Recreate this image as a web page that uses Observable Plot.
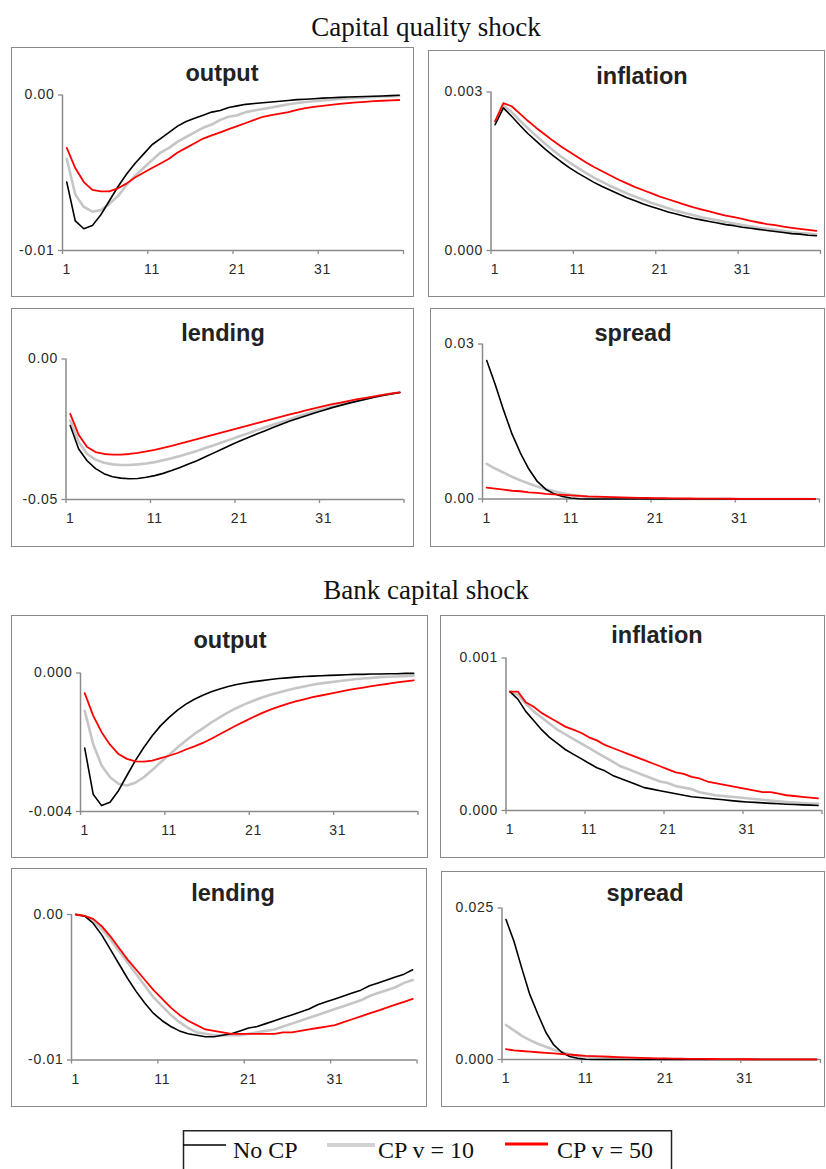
<!DOCTYPE html>
<html>
<head>
<meta charset="utf-8">
<script src="https://cdn.jsdelivr.net/npm/d3@7"></script>
<script src="https://cdn.jsdelivr.net/npm/@observablehq/plot@0.6"></script>
<style>
  html, body { margin: 0; padding: 0; background: #fff; }
  #page { position: relative; width: 826px; height: 1169px; overflow: hidden; background: #fff; }
  .section { position: absolute; font-family: "Liberation Serif", "Times New Roman", serif; font-size: 27px; color: #111; transform: translate(-50%, -50%); white-space: nowrap; }
  .ptitle { position: absolute; font-family: "Liberation Sans", Arial, sans-serif; font-weight: bold; font-size: 23.5px; color: #222; transform: translate(-50%, -50%); white-space: nowrap; }
  .frame { position: absolute; border: 1.5px solid #8a8a8a; box-sizing: border-box; pointer-events: none; }
</style>
</head>
<body>
<div id="page"></div>
<script>
// ---------------- DATA ----------------
const periods = [1,2,3,4,5,6,7,8,9,10,11,12,13,14,15,16,17,18,19,20,21,22,23,24,25,26,27,28,29,30,31,32,33,34,35,36,37,38,39,40];
const seriesNames = ["No CP", "CP v = 10", "CP v = 50"];
const sectionTitles = ["Capital quality shock", "Bank capital shock"];
const panelTitles = ["output", "inflation", "lending", "spread"];
const xTickLabels = [1, 11, 21, 31];

// Capital quality shock
const cqOutputNoCP = [-0.0056,-0.0081,-0.0086,-0.0084,-0.0077,-0.0068,-0.0059,-0.0051,-0.0044,-0.0038,-0.0032,-0.0028,-0.0024,-0.0020,-0.0017,-0.0015,-0.0013,-0.0011,-0.0010,-0.0008,-0.0007,-0.0006,-0.00055,-0.0005,-0.00045,-0.0004,-0.00035,-0.0003,-0.00027,-0.00024,-0.0002,-0.00018,-0.00015,-0.00013,-0.00011,-0.0001,-0.00008,-0.00006,-0.00004,-0.00002];
const cqOutputCP10 = [-0.0041,-0.0064,-0.0072,-0.0075,-0.0074,-0.0070,-0.0065,-0.0058,-0.0052,-0.0047,-0.0042,-0.0037,-0.0034,-0.0030,-0.0027,-0.0024,-0.0021,-0.0019,-0.0016,-0.0014,-0.0013,-0.0011,-0.0010,-0.0009,-0.0008,-0.0007,-0.0006,-0.00052,-0.00045,-0.0004,-0.00035,-0.0003,-0.00026,-0.00022,-0.00019,-0.00016,-0.00013,-0.0001,-0.00008,-0.00006];
const cqOutputCP50 = [-0.0034,-0.0047,-0.0056,-0.0061,-0.0062,-0.0062,-0.0060,-0.0057,-0.0053,-0.0050,-0.0047,-0.0044,-0.0041,-0.0037,-0.0034,-0.0031,-0.0028,-0.0026,-0.0024,-0.0022,-0.0020,-0.0018,-0.0016,-0.0014,-0.0013,-0.0012,-0.0011,-0.00095,-0.00085,-0.00077,-0.0007,-0.00063,-0.00057,-0.00052,-0.00048,-0.00044,-0.0004,-0.00037,-0.00034,-0.00032];

const cqInflNoCP = [0.00238,0.0027,0.00254,0.00237,0.00221,0.00207,0.00193,0.0018,0.00168,0.00157,0.00147,0.00138,0.00129,0.00121,0.00114,0.00107,0.001,0.00094,0.00088,0.00083,0.00078,0.00073,0.00069,0.00065,0.00061,0.00058,0.00055,0.00052,0.00049,0.00047,0.00044,0.00042,0.0004,0.00038,0.00036,0.00034,0.00032,0.00031,0.00029,0.00028];
const cqInflCP10 = [0.00242,0.00275,0.00262,0.00246,0.00231,0.00217,0.00203,0.0019,0.00178,0.00167,0.00157,0.00147,0.00138,0.0013,0.00122,0.00115,0.00108,0.00102,0.00096,0.0009,0.00085,0.0008,0.00075,0.00071,0.00067,0.00063,0.0006,0.00057,0.00054,0.00051,0.00048,0.00046,0.00043,0.00041,0.00039,0.00037,0.00035,0.00033,0.00032,0.0003];
const cqInflCP50 = [0.00245,0.00279,0.00273,0.00259,0.00245,0.00232,0.0022,0.00208,0.00197,0.00187,0.00177,0.00167,0.00158,0.0015,0.00142,0.00134,0.00127,0.0012,0.00114,0.00108,0.00102,0.00097,0.00092,0.00087,0.00082,0.00078,0.00074,0.0007,0.00066,0.00063,0.0006,0.00056,0.00053,0.0005,0.00048,0.00045,0.00043,0.00041,0.00039,0.00037];

const cqLendNoCP = [-0.0237,-0.032,-0.0362,-0.039,-0.0408,-0.0419,-0.0424,-0.0426,-0.0425,-0.0421,-0.0415,-0.0407,-0.0397,-0.0386,-0.0374,-0.0362,-0.0348,-0.0334,-0.032,-0.0306,-0.0293,-0.028,-0.0268,-0.0256,-0.0244,-0.0232,-0.0221,-0.0211,-0.0201,-0.0191,-0.0182,-0.0173,-0.0165,-0.0157,-0.015,-0.0143,-0.0136,-0.013,-0.0124,-0.0119];
const cqLendCP10 = [-0.0219,-0.0295,-0.0338,-0.0358,-0.0369,-0.0375,-0.0377,-0.0377,-0.0375,-0.0372,-0.0367,-0.036,-0.0353,-0.0345,-0.0336,-0.0327,-0.0317,-0.0307,-0.0296,-0.0286,-0.0275,-0.0265,-0.0254,-0.0244,-0.0234,-0.0224,-0.0214,-0.0204,-0.0195,-0.0186,-0.0177,-0.0169,-0.0161,-0.0154,-0.0147,-0.014,-0.0134,-0.0128,-0.0123,-0.0119];
const cqLendCP50 = [-0.0195,-0.027,-0.0313,-0.0331,-0.0338,-0.034,-0.034,-0.0338,-0.0334,-0.0329,-0.0323,-0.0316,-0.0309,-0.0301,-0.0293,-0.0285,-0.0277,-0.0269,-0.0261,-0.0253,-0.0245,-0.0237,-0.0229,-0.0221,-0.0213,-0.0205,-0.0197,-0.019,-0.0182,-0.0175,-0.0168,-0.0161,-0.0155,-0.0149,-0.0143,-0.0138,-0.0133,-0.0128,-0.0123,-0.0119];

const cqSpreadNoCP = [0.0268,0.0222,0.0172,0.0126,0.0089,0.0058,0.0034,0.0019,0.001,0.0005,0.0002,0.00005,0,0,0,0,0,0,0,0,0,0,0,0,0,0,0,0,0,0,0,0,0,0,0,0,0,0,0,0];
const cqSpreadCP10 = [0.0068,0.0059,0.0051,0.0043,0.0036,0.003,0.0024,0.0019,0.0015,0.0011,0.0008,0.0006,0.0004,0.0003,0.0002,0.00015,0.0001,0.00007,0.00005,0.00003,0.00002,0.00002,0.00001,0.00001,0.00001,0,0,0,0,0,0,0,0,0,0,0,0,0,0,0];
const cqSpreadCP50 = [0.0022,0.002,0.0018,0.0016,0.0015,0.0013,0.0012,0.001,0.0009,0.0008,0.0007,0.0006,0.0005,0.00045,0.0004,0.00035,0.0003,0.00026,0.00022,0.0002,0.00017,0.00015,0.00013,0.00011,0.0001,0.00009,0.00008,0.00007,0.00006,0.00005,0.00004,0.00004,0.00003,0.00003,0.00002,0.00002,0.00002,0.00001,0.00001,0.00001];

// Bank capital shock
const bcOutputNoCP = [-0.00217,-0.0035,-0.00383,-0.00373,-0.0034,-0.00296,-0.00253,-0.00215,-0.00181,-0.00152,-0.00128,-0.00107,-0.0009,-0.00076,-0.00064,-0.00054,-0.00046,-0.00039,-0.00033,-0.00029,-0.00025,-0.00022,-0.00019,-0.00016,-0.00014,-0.00012,-0.0001,-0.00009,-0.00008,-0.00007,-0.00006,-0.00005,-0.00004,-0.00004,-0.00003,-0.00003,-0.00002,-0.00002,-0.00001,-0.00001];
const bcOutputCP10 = [-0.00109,-0.00205,-0.00267,-0.00301,-0.0032,-0.00325,-0.00317,-0.00301,-0.0028,-0.00258,-0.00236,-0.00215,-0.00195,-0.00176,-0.0016,-0.00143,-0.00128,-0.00114,-0.00101,-0.0009,-0.0008,-0.00071,-0.00063,-0.00056,-0.0005,-0.00044,-0.00039,-0.00034,-0.0003,-0.00027,-0.00024,-0.00021,-0.00018,-0.00016,-0.00014,-0.00012,-0.00011,-0.0001,-0.00009,-0.00008];
const bcOutputCP50 = [-0.00058,-0.00123,-0.00171,-0.00207,-0.00234,-0.00248,-0.00255,-0.00256,-0.00253,-0.00246,-0.00239,-0.00231,-0.00221,-0.00212,-0.00202,-0.0019,-0.00177,-0.00164,-0.00151,-0.00139,-0.00127,-0.00116,-0.00106,-0.00097,-0.00089,-0.00082,-0.00076,-0.0007,-0.00065,-0.0006,-0.00055,-0.0005,-0.00046,-0.00042,-0.00038,-0.00034,-0.00031,-0.00027,-0.00024,-0.00021];

const bcInflNoCP = [0.00078,0.00073,0.00065,0.00059,0.00053,0.00048,0.00044,0.0004,0.00037,0.00034,0.00031,0.00028,0.00026,0.00023,0.00021,0.00019,0.00017,0.00015,0.00014,0.00013,0.00012,0.00011,0.0001,0.00009,0.000085,0.00008,0.000075,0.00007,0.000065,0.00006,0.000056,0.000053,0.00005,0.000047,0.000044,0.000041,0.000039,0.000037,0.000035,0.000033];
const bcInflCP10 = [0.00078,0.00076,0.0007,0.00065,0.00061,0.00057,0.00053,0.0005,0.00047,0.00044,0.00041,0.00038,0.00035,0.00032,0.00029,0.00027,0.00025,0.00023,0.00021,0.00019,0.00018,0.00016,0.00015,0.00014,0.00012,0.00011,0.0001,0.000095,0.00009,0.000085,0.00008,0.000075,0.00007,0.000065,0.00006,0.000056,0.000052,0.000049,0.000046,0.000044];
const bcInflCP50 = [0.00078,0.00078,0.00071,0.00068,0.00064,0.00061,0.00058,0.00055,0.00053,0.00051,0.00048,0.00046,0.00043,0.00041,0.00039,0.00037,0.00035,0.00033,0.00031,0.00029,0.00027,0.00025,0.00024,0.00022,0.00021,0.00019,0.00018,0.00017,0.00016,0.00015,0.00014,0.00013,0.00012,0.00012,0.00011,0.0001,0.000095,0.00009,0.000085,0.00008];

const bcLendNoCP = [0,-0.0001,-0.0006,-0.0014,-0.0024,-0.0034,-0.0044,-0.0053,-0.0061,-0.0068,-0.0073,-0.0077,-0.008,-0.0082,-0.0083,-0.0084,-0.0084,-0.0083,-0.0082,-0.008,-0.0078,-0.0077,-0.0075,-0.0073,-0.0071,-0.0069,-0.0067,-0.0065,-0.0062,-0.006,-0.0058,-0.0056,-0.0054,-0.0052,-0.0049,-0.0047,-0.0045,-0.0043,-0.0041,-0.0038];
const bcLendCP10 = [0,-0.0001,-0.0004,-0.001,-0.0017,-0.0025,-0.0033,-0.0041,-0.0049,-0.0057,-0.0063,-0.0069,-0.0074,-0.0078,-0.0081,-0.0082,-0.0083,-0.0083,-0.0083,-0.0083,-0.0082,-0.0081,-0.008,-0.0079,-0.0077,-0.0075,-0.0073,-0.0071,-0.0069,-0.0067,-0.0065,-0.0063,-0.0061,-0.0059,-0.0056,-0.0054,-0.0052,-0.005,-0.0047,-0.0045];
const bcLendCP50 = [0,-0.0001,-0.0003,-0.0008,-0.0015,-0.0023,-0.0031,-0.0038,-0.0045,-0.0052,-0.0058,-0.0064,-0.0069,-0.0073,-0.0076,-0.0079,-0.008,-0.0081,-0.0082,-0.0082,-0.0082,-0.0082,-0.0082,-0.0082,-0.0081,-0.0081,-0.008,-0.0079,-0.0078,-0.0077,-0.0076,-0.0074,-0.0072,-0.007,-0.0068,-0.0066,-0.0064,-0.0062,-0.006,-0.0058];

const bcSpreadNoCP = [0.0231,0.0195,0.015,0.0107,0.0075,0.0045,0.0024,0.0012,0.0005,0.0002,0.00005,0,0,0,0,0,0,0,0,0,0,0,0,0,0,0,0,0,0,0,0,0,0,0,0,0,0,0,0,0];
const bcSpreadCP10 = [0.0057,0.0048,0.0039,0.0032,0.0026,0.0021,0.0016,0.0012,0.0009,0.0006,0.0005,0.0004,0.0003,0.0002,0.00015,0.0001,0.00008,0.00006,0.00004,0.00003,0.00002,0.00002,0.00001,0.00001,0.00001,0,0,0,0,0,0,0,0,0,0,0,0,0,0,0];
const bcSpreadCP50 = [0.0017,0.0015,0.0014,0.0013,0.0012,0.0011,0.001,0.0009,0.0008,0.0007,0.0006,0.00055,0.0005,0.00045,0.0004,0.00035,0.0003,0.00026,0.00022,0.0002,0.00017,0.00015,0.00013,0.00011,0.0001,0.00009,0.00008,0.00007,0.00006,0.00005,0.00004,0.00004,0.00003,0.00003,0.00002,0.00002,0.00002,0.00001,0.00001,0.00001];

// y-axis ticks (min, max) and their labels, per panel
const yTicksCQ = [[-0.01, 0], [0, 0.003], [-0.05, 0], [0, 0.03]];
const yLabelsCQ = [["-0.01", "0.00"], ["0.000", "0.003"], ["-0.05", "0.00"], ["0.00", "0.03"]];
const yTicksBC = [[-0.004, 0], [0, 0.001], [-0.01, 0], [0, 0.025]];
const yLabelsBC = [["-0.004", "0.000"], ["0.000", "0.001"], ["-0.01", "0.00"], ["0.000", "0.025"]];

// ---------------- STYLE / LAYOUT ----------------
const lineStyles = [
  { color: "#000000", width: 1.6 },
  { color: "#c6c6c6", width: 2.6 },
  { color: "#ff0000", width: 1.8 }
];
const drawOrder = [1, 0, 2];
const axisColor = "#8a8a8a";

// frame box (l,t,r,b), plot area (x0,x1,yTop,yBot), title centre (cx,cy)
const layout = [
  { l: 11, t: 47, r: 414, b: 297, x0: 62, x1: 403, yTop: 94.5, yBot: 250, cx: 222, cy: 73 },
  { l: 428, t: 50, r: 825, b: 297, x0: 490.5, x1: 820, yTop: 91.5, yBot: 250, cx: 642, cy: 76 },
  { l: 11, t: 308, r: 414, b: 547, x0: 65.5, x1: 403.5, yTop: 358.5, yBot: 499, cx: 223, cy: 333 },
  { l: 430, t: 308, r: 825, b: 547, x0: 482, x1: 819, yTop: 343.5, yBot: 498.5, cx: 633, cy: 333 },
  { l: 11, t: 615, r: 428, b: 858, x0: 80, x1: 417.5, yTop: 672.5, yBot: 811, cx: 230, cy: 640 },
  { l: 440, t: 615, r: 825, b: 858, x0: 505.5, x1: 821.5, yTop: 657.5, yBot: 810, cx: 657, cy: 635 },
  { l: 11, t: 868, r: 427, b: 1107, x0: 71, x1: 416.5, yTop: 914, yBot: 1059.5, cx: 233, cy: 893 },
  { l: 441, t: 871, r: 825, b: 1107, x0: 501.5, x1: 820, yTop: 907.5, yBot: 1059, cx: 645, cy: 893 }
];
const sectionPos = [{ cx: 426, cy: 27 }, { cx: 426, cy: 590 }];
const xBoundaryTicks = [0.5, 10.5, 20.5, 30.5, 40.5];

// ---------------- BUILD ----------------
const panels = [
  { title: panelTitles[0], series: [cqOutputNoCP, cqOutputCP10, cqOutputCP50], yTicks: yTicksCQ[0], yLabels: yLabelsCQ[0] },
  { title: panelTitles[1], series: [cqInflNoCP, cqInflCP10, cqInflCP50], yTicks: yTicksCQ[1], yLabels: yLabelsCQ[1] },
  { title: panelTitles[2], series: [cqLendNoCP, cqLendCP10, cqLendCP50], yTicks: yTicksCQ[2], yLabels: yLabelsCQ[2] },
  { title: panelTitles[3], series: [cqSpreadNoCP, cqSpreadCP10, cqSpreadCP50], yTicks: yTicksCQ[3], yLabels: yLabelsCQ[3] },
  { title: panelTitles[0], series: [bcOutputNoCP, bcOutputCP10, bcOutputCP50], yTicks: yTicksBC[0], yLabels: yLabelsBC[0] },
  { title: panelTitles[1], series: [bcInflNoCP, bcInflCP10, bcInflCP50], yTicks: yTicksBC[1], yLabels: yLabelsBC[1] },
  { title: panelTitles[2], series: [bcLendNoCP, bcLendCP10, bcLendCP50], yTicks: yTicksBC[2], yLabels: yLabelsBC[2] },
  { title: panelTitles[3], series: [bcSpreadNoCP, bcSpreadCP10, bcSpreadCP50], yTicks: yTicksBC[3], yLabels: yLabelsBC[3] }
];

const page = document.getElementById("page");

sectionTitles.forEach((t, i) => {
  const d = document.createElement("div");
  d.className = "section";
  d.textContent = t;
  d.style.left = sectionPos[i].cx + "px";
  d.style.top = sectionPos[i].cy + "px";
  page.appendChild(d);
});

panels.forEach((p, i) => {
  const L = layout[i];
  const W = L.r - L.l, H = L.b - L.t;
  const rows = [];
  p.series.forEach((arr, s) => arr.forEach((v, k) => rows.push({ period: periods[k], value: v, series: seriesNames[s] })));
  const [ymin, ymax] = p.yTicks;
  const svg = Plot.plot({
    width: W, height: H,
    marginLeft: L.x0 - L.l, marginRight: L.r - L.x1,
    marginTop: L.yTop - L.t, marginBottom: L.b - L.yBot,
    x: { domain: [0.5, 40.5] },
    y: { domain: [ymin, ymax] },
    style: { fontFamily: '"Liberation Sans", Arial, sans-serif', fontSize: "14px", letterSpacing: "0.7px", color: "#2a2a2a", background: "transparent", overflow: "visible" },
    marks: [
      Plot.axisY({ ticks: p.yTicks, tickFormat: d => p.yLabels[p.yTicks.indexOf(d)], tickSize: 4, tickPadding: 4, stroke: axisColor, strokeWidth: 1.3, label: null }),
      Plot.axisX({ ticks: xBoundaryTicks, tickFormat: () => "", tickSize: 4, stroke: axisColor, strokeWidth: 1.3, label: null }),
      Plot.axisX({ ticks: xTickLabels, tickSize: 0, tickPadding: 14, label: null }),
      Plot.ruleX([0.5], { y1: ymin, y2: ymax, stroke: axisColor, strokeWidth: 1.5 }),
      Plot.ruleY([ymin], { stroke: axisColor, strokeWidth: 1.5 }),
      ...drawOrder.map(s => Plot.line(rows.filter(r => r.series === seriesNames[s]), {
        x: "period", y: "value", stroke: lineStyles[s].color, strokeWidth: lineStyles[s].width, curve: "linear"
      }))
    ]
  });
  svg.style.position = "absolute";
  svg.style.left = L.l + "px";
  svg.style.top = L.t + "px";
  svg.style.maxWidth = "none";
  page.appendChild(svg);

  const frame = document.createElement("div");
  frame.className = "frame";
  frame.style.left = L.l + "px";
  frame.style.top = L.t + "px";
  frame.style.width = W + "px";
  frame.style.height = H + "px";
  page.appendChild(frame);

  const t = document.createElement("div");
  t.className = "ptitle";
  t.textContent = p.title;
  t.style.left = L.cx + "px";
  t.style.top = L.cy + "px";
  page.appendChild(t);
});

// Legend
const legendPos = { l: 183.5, t: 1130, w: 488, h: 60, lineY: 15, textY: 28 };
const legendItems = [
  { x1: 183, x2: 226, tx: 233, dy: 0 },
  { x1: 327, x2: 375, tx: 378, dy: 0 },
  { x1: 505, x2: 548, tx: 557, dy: -1 }
];
const leg = d3.create("svg")
  .attr("width", 826).attr("height", 50)
  .style("position", "absolute").style("left", "0px").style("top", "1130px");
leg.append("rect")
  .attr("x", legendPos.l).attr("y", 0.75).attr("width", legendPos.w).attr("height", legendPos.h)
  .attr("fill", "none").attr("stroke", "#222").attr("stroke-width", 1.5);
seriesNames.forEach((name, s) => {
  const it = legendItems[s];
  leg.append("line")
    .attr("x1", it.x1).attr("x2", it.x2)
    .attr("y1", legendPos.lineY + it.dy).attr("y2", legendPos.lineY + it.dy)
    .attr("stroke", s === 1 ? "#d2d2d2" : lineStyles[s].color)
    .attr("stroke-width", s === 0 ? 1.5 : (s === 1 ? 4 : 3));
  leg.append("text")
    .attr("x", it.tx).attr("y", legendPos.textY)
    .attr("font-family", '"Liberation Serif", "Times New Roman", serif')
    .attr("font-size", 24).attr("fill", "#111")
    .text(name);
});
page.appendChild(leg.node());
</script>
</body>
</html>
